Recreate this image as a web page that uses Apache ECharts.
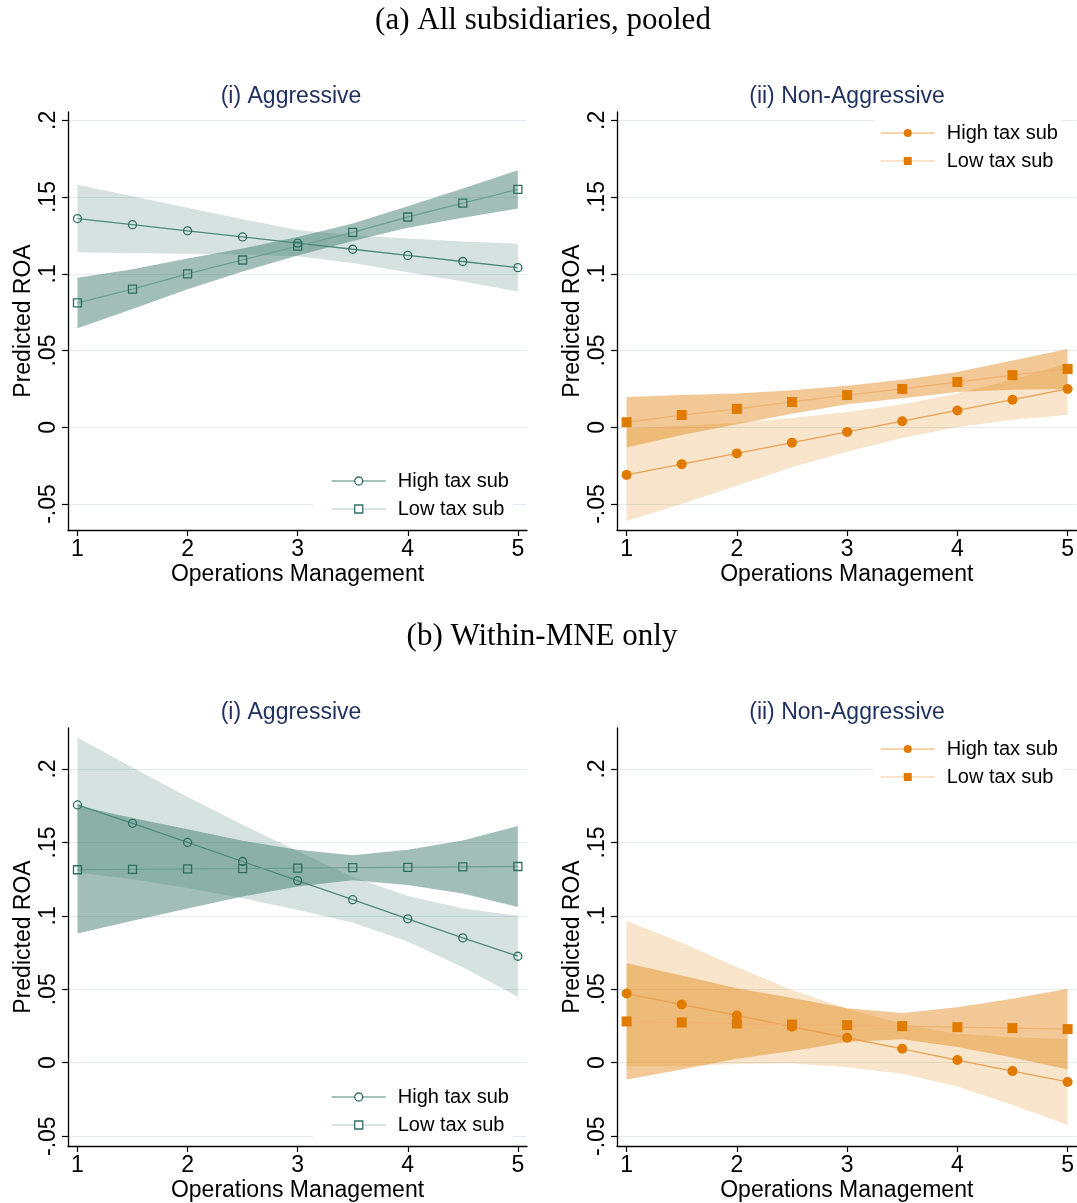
<!DOCTYPE html>
<html>
<head>
<meta charset="utf-8">
<script src="https://cdn.jsdelivr.net/npm/echarts@6/dist/echarts.min.js"></script>
<style>
  html, body { margin: 0; padding: 0; background: #fff; }
  #chart { width: 1077px; height: 1203px; }
</style>
</head>
<body>
<div id="chart"></div>
<script>
// operations management score (x) and axis ticks
const xVals = [1, 1.5, 2, 2.5, 3, 3.5, 4, 4.5, 5];
const xTicks = [1, 2, 3, 4, 5];
const yTicks = [-0.05, 0, 0.05, 0.1, 0.15, 0.2];

// (a) pooled - (i) aggressive
const aAggHigh   = [0.136, 0.132, 0.128, 0.124, 0.120, 0.116, 0.112, 0.108, 0.104];
const aAggHighLo = [0.114, 0.1135, 0.113, 0.1125, 0.1115, 0.107, 0.101, 0.095, 0.0885];
const aAggHighHi = [0.158, 0.1505, 0.143, 0.1355, 0.1285, 0.125, 0.123, 0.121, 0.1195];
const aAggLow    = [0.081, 0.090, 0.100, 0.109, 0.118, 0.127, 0.137, 0.146, 0.155];
const aAggLowLo  = [0.0645, 0.077, 0.090, 0.1015, 0.112, 0.1213, 0.130, 0.1365, 0.1425];
const aAggLowHi  = [0.0975, 0.103, 0.110, 0.1165, 0.124, 0.1327, 0.144, 0.1555, 0.1675];

// (a) pooled - (ii) non-aggressive
const aNonHigh   = [-0.031, -0.024, -0.017, -0.010, -0.003, 0.004, 0.011, 0.018, 0.025];
const aNonHighLo = [-0.061, -0.050, -0.038, -0.026, -0.016, -0.007, 0.000, 0.005, 0.008];
const aNonHighHi = [-0.001, 0.001, 0.003, 0.006, 0.010, 0.015, 0.022, 0.031, 0.042];
const aNonLow    = [0.0033, 0.008, 0.012, 0.0165, 0.021, 0.025, 0.0295, 0.034, 0.038];
const aNonLowLo  = [-0.0132, -0.005, 0.002, 0.0088, 0.015, 0.019, 0.023, 0.0245, 0.025];
const aNonLowHi  = [0.0198, 0.021, 0.022, 0.0242, 0.027, 0.031, 0.036, 0.0435, 0.051];

// (b) within-MNE - (i) aggressive
const bAggHigh   = [0.1755, 0.163, 0.150, 0.137, 0.124, 0.111, 0.098, 0.085, 0.0725];
const bAggHighLo = [0.1295, 0.125, 0.119, 0.112, 0.104, 0.0955, 0.0825, 0.065, 0.045];
const bAggHighHi = [0.2215, 0.201, 0.181, 0.162, 0.144, 0.1265, 0.1135, 0.105, 0.100];
const bAggLow    = [0.1314, 0.1317, 0.132, 0.1322, 0.1325, 0.1328, 0.133, 0.1333, 0.1336];
const bAggLowLo  = [0.0879, 0.0967, 0.105, 0.1132, 0.120, 0.1243, 0.121, 0.1153, 0.1061];
const bAggLowHi  = [0.1749, 0.1667, 0.159, 0.1512, 0.145, 0.1413, 0.145, 0.1513, 0.1611];

// (b) within-MNE - (ii) non-aggressive
const bNonHigh   = [0.0471, 0.0396, 0.0322, 0.0245, 0.017, 0.0095, 0.0018, -0.0057, -0.0131];
const bNonHighLo = [-0.0024, -0.0024, -0.0008, -0.0005, -0.003, -0.0075, -0.0162, -0.0287, -0.0424];
const bNonHighHi = [0.0966, 0.0816, 0.0652, 0.0495, 0.037, 0.0265, 0.0198, 0.0173, 0.0162];
const bNonLow    = [0.0281, 0.0274, 0.0267, 0.026, 0.0256, 0.0249, 0.0242, 0.0236, 0.0229];
const bNonLowLo  = [-0.0115, -0.0046, 0.0027, 0.008, 0.0141, 0.0159, 0.0107, 0.0036, -0.0046];
const bNonLowHi  = [0.0677, 0.0594, 0.0507, 0.044, 0.0371, 0.0339, 0.0377, 0.0436, 0.0504];

const FONT = 'Liberation Sans';

const teal = {
  marker: '#2f6f61', hiLine: '#4f897c', loLine: '#6f9f94',
  hiBand: 'rgba(56,118,104,0.21)', loBand: 'rgba(56,118,104,0.47)',
  hiLegend: '#86b1a6', loLegend: '#c6dbd5', filled: false
};
const orange = {
  marker: '#e07b00', hiLine: '#eba052', loLine: '#efb273',
  hiBand: 'rgba(224,123,0,0.2)', loBand: 'rgba(224,123,0,0.41)',
  hiLegend: '#f3c28c', loLegend: '#f8dcbb', filled: true
};

const panels = [
  { high: aAggHigh, highLo: aAggHighLo, highHi: aAggHighHi, low: aAggLow, lowLo: aAggLowLo, lowHi: aAggLowHi,
    pal: teal, left: 68, top: 112, width: 459, height: 418, xMin: 0.914, xMax: 5.083, yMin: -0.0669, yMax: 0.2054,
    legend: { left: 313, top: 468, padLeft: 18 } },
  { high: aNonHigh, highLo: aNonHighLo, highHi: aNonHighHi, low: aNonLow, lowLo: aNonLowLo, lowHi: aNonLowHi,
    pal: orange, left: 617, top: 112, width: 460, height: 418, xMin: 0.913, xMax: 5.081, yMin: -0.0669, yMax: 0.2054,
    legend: { left: 874, top: 120, padLeft: 6 } },
  { high: bAggHigh, highLo: bAggHighLo, highHi: bAggHighHi, low: bAggLow, lowLo: bAggLowLo, lowHi: bAggLowHi,
    pal: teal, left: 68, top: 728, width: 459, height: 419, xMin: 0.914, xMax: 5.083, yMin: -0.0567, yMax: 0.2279,
    legend: { left: 313, top: 1084, padLeft: 18 } },
  { high: bNonHigh, highLo: bNonHighLo, highHi: bNonHighHi, low: bNonLow, lowLo: bNonLowLo, lowHi: bNonLowHi,
    pal: orange, left: 617, top: 728, width: 460, height: 419, xMin: 0.913, xMax: 5.081, yMin: -0.0567, yMax: 0.2279,
    legend: { left: 874, top: 736, padLeft: 6 } }
];

const pts = arr => xVals.map((x, i) => [x, arr[i]]);
const fmtY = v => (v === 0 ? '0' : String(v).replace('0.', '.'));

const grid = [], xAxis = [], yAxis = [], series = [], legend = [];

// confidence band: one polygon through the lower bounds and back along the upper bounds
function bandSeries(k, lo, hi, color) {
  return {
    type: 'custom', xAxisIndex: k, yAxisIndex: k, silent: true, z: 1,
    data: xVals.map((x, i) => [x, lo[i], hi[i]]),
    encode: { x: 0, y: [1, 2] },
    renderItem: (params, api) => {
      if (params.dataIndex !== 0) return null;
      const poly = [];
      xVals.forEach((x, i) => poly.push(api.coord([x, lo[i]])));
      for (let i = xVals.length - 1; i >= 0; i--) poly.push(api.coord([xVals[i], hi[i]]));
      return { type: 'polygon', shape: { points: poly }, style: { fill: color, stroke: null } };
    }
  };
}

panels.forEach((p, k) => {
  grid.push({ left: p.left, top: p.top, width: p.width, height: p.height });

  xAxis.push({
    type: 'value', gridIndex: k, min: p.xMin, max: p.xMax,
    name: 'Operations Management', nameLocation: 'middle', nameGap: 33,
    nameTextStyle: { fontFamily: FONT, fontSize: 23, color: '#000' },
    axisLine: { onZero: false, lineStyle: { color: '#000', width: 1.3 } },
    axisTick: { customValues: xTicks, length: 6, lineStyle: { color: '#000', width: 1.2 } },
    axisLabel: { customValues: xTicks, margin: 8, fontFamily: FONT, fontSize: 23, color: '#000' },
    splitLine: { show: false }
  });

  yAxis.push({
    type: 'value', gridIndex: k, min: p.yMin, max: p.yMax,
    name: 'Predicted ROA', nameLocation: 'middle', nameGap: 33,
    nameTextStyle: { fontFamily: FONT, fontSize: 23, color: '#000' },
    axisLine: { show: true, onZero: false, lineStyle: { color: '#000', width: 1.3 } },
    axisTick: { show: true, customValues: yTicks, length: 6, lineStyle: { color: '#000', width: 1.2 } },
    axisLabel: { customValues: yTicks, rotate: 90, margin: 8, fontFamily: FONT, fontSize: 23, color: '#000', formatter: fmtY },
    splitLine: { show: true, lineStyle: { color: '#e3edef', width: 1.2 } }
  });

  const pal = p.pal;
  series.push(bandSeries(k, p.highLo, p.highHi, pal.hiBand));
  series.push(bandSeries(k, p.lowLo, p.lowHi, pal.loBand));

  const markStyle = pal.filled
    ? { color: pal.marker, borderWidth: 0 }
    : { color: 'rgba(0,0,0,0)', borderColor: pal.marker, borderWidth: 1.3 };

  series.push({
    name: 'High tax sub', type: 'line', xAxisIndex: k, yAxisIndex: k, data: pts(p.high),
    symbol: 'circle', symbolSize: pal.filled ? 10 : 8,
    itemStyle: markStyle, lineStyle: { color: pal.hiLine, width: 1.3 }, z: 3
  });
  series.push({
    name: 'Low tax sub', type: 'line', xAxisIndex: k, yAxisIndex: k, data: pts(p.low),
    symbol: 'rect', symbolSize: pal.filled ? 10 : 8,
    itemStyle: markStyle, lineStyle: { color: pal.loLine, width: 1.3 }, z: 3
  });

  const legMark = pal.filled
    ? { color: pal.marker, borderWidth: 0 }
    : { color: '#fff', borderColor: pal.marker, borderWidth: 1.3 };
  legend.push({
    orient: 'vertical', left: p.legend.left, top: p.legend.top,
    padding: [2, 4, 2, p.legend.padLeft], itemGap: 6, itemWidth: 54, itemHeight: 10,
    backgroundColor: '#fff', selectedMode: false,
    textStyle: { fontFamily: FONT, fontSize: 20, color: '#000', lineHeight: 22, padding: [0, 0, 0, 7] },
    data: [
      { name: 'High tax sub', itemStyle: legMark, lineStyle: { color: pal.hiLegend, width: 1.5 } },
      { name: 'Low tax sub', itemStyle: legMark, lineStyle: { color: pal.loLegend, width: 1.5 } }
    ]
  });
});

const titleText = (text, x, y, style) => ({ type: 'text', x: x, y: y, silent: true,
  style: Object.assign({ text: text, align: 'center', verticalAlign: 'middle' }, style) });
const secStyle = { fontFamily: 'Liberation Serif', fontSize: 31, fill: '#000' };
const panStyle = { fontFamily: FONT, fontSize: 23, fill: '#1f2f5e' };

const chart = echarts.init(document.getElementById('chart'));
chart.setOption({
  animation: false,
  backgroundColor: '#fff',
  grid: grid, xAxis: xAxis, yAxis: yAxis, series: series, legend: legend,
  graphic: [
    titleText('(a) All subsidiaries, pooled', 543, 21, secStyle),
    titleText('(b) Within-MNE only', 542, 637, secStyle),
    titleText('(i) Aggressive', 291, 97, panStyle),
    titleText('(ii) Non-Aggressive', 847, 97, panStyle),
    titleText('(i) Aggressive', 291, 713, panStyle),
    titleText('(ii) Non-Aggressive', 847, 713, panStyle)
  ]
});
</script>
</body>
</html>
